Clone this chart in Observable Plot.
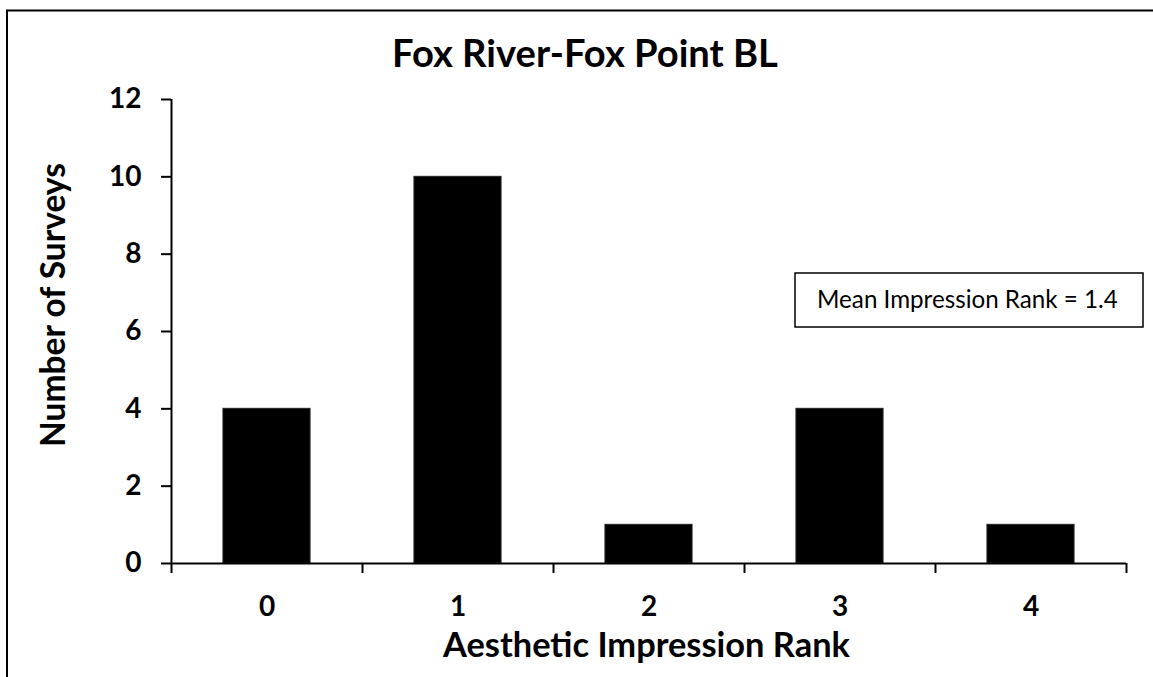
<!DOCTYPE html>
<html>
<head>
<meta charset="utf-8">
<script src="https://cdn.jsdelivr.net/npm/d3@7"></script>
<script src="https://cdn.jsdelivr.net/npm/@observablehq/plot@0.6"></script>
<style>
  html, body { margin: 0; padding: 0; background: white; }
  #chart svg { display: block; }
  #chart text { font-family: Lato, "Open Sans", sans-serif; font-weight: bold; fill: black; }
  #chart text.normal { font-weight: normal; }
</style>
</head>
<body>
<div id="chart"></div>
<script>
// ---- data ----
const ranks = [0, 1, 2, 3, 4];
const counts = [4, 10, 1, 4, 1];
const yTicks = [0, 2, 4, 6, 8, 10, 12];
const boundaryTicks = [-0.5, 0.5, 1.5, 2.5, 3.5, 4.5];
const chartTitle = "Fox River-Fox Point BL";
const xTitle = "Aesthetic Impression Rank";
const yTitle = "Number of Surveys";
const meanRank = 1.4;
const annotation = `Mean Impression Rank = ${meanRank}`;

const data = ranks.map((r, i) => ({rank: r, count: counts[i]}));
const barHalf = 0.228;

const plot = Plot.plot({
  width: 1153,
  height: 677,
  marginLeft: 171,
  marginRight: 27,
  marginTop: 99,
  marginBottom: 114,
  style: {background: "white", fontFamily: "Lato, sans-serif", overflow: "visible"},
  x: {domain: [-0.5, 4.5]},
  y: {domain: [0, 12]},
  marks: [
    Plot.rectY(data, {x1: d => d.rank - barHalf, x2: d => d.rank + barHalf, y: "count", fill: "black", stroke: "#222", strokeWidth: 1}),
    Plot.ruleY([0], {stroke: "black", strokeWidth: 2}),
    Plot.ruleX([-0.5], {stroke: "black", strokeWidth: 2}),
    Plot.axisY({ticks: yTicks, tickSize: 10, tickPadding: 20, fontSize: 28, fontWeight: "bold", strokeWidth: 2, label: null, tickFormat: d => d}),
    Plot.axisX({ticks: boundaryTicks, tickSize: 10, strokeWidth: 2, tickFormat: () => "", label: null}),
    Plot.axisX({ticks: ranks, tickSize: 0, tickPadding: 33, fontSize: 28, fontWeight: "bold", label: null, tickFormat: d => d})
  ]
});
document.getElementById("chart").appendChild(plot);

const svg = d3.select(plot);

function fit(sel, target) {
  const node = sel.node();
  const size = parseFloat(sel.attr("font-size"));
  const w = node.getComputedTextLength();
  if (w > 0) sel.attr("font-size", size * target / w);
}

// border (only left and top visible in the reference)
svg.append("path")
  .attr("d", "M7,677V10.5H1153")
  .attr("fill", "none").attr("stroke", "black").attr("stroke-width", 2);

// title
const t = svg.append("text").attr("x", 585).attr("y", 67)
  .attr("text-anchor", "middle").attr("font-size", 30).text(chartTitle);
fit(t, 386);

// x title
const xt = svg.append("text").attr("x", 646.5).attr("y", 657)
  .attr("text-anchor", "middle").attr("font-size", 30).text(xTitle);
fit(xt, 407);

// y title
const yt = svg.append("text").attr("transform", "translate(65,305) rotate(-90)")
  .attr("text-anchor", "middle").attr("font-size", 30).text(yTitle);
fit(yt, 284);

// annotation box
svg.append("rect").attr("x", 795).attr("y", 273).attr("width", 348).attr("height", 54)
  .attr("fill", "white").attr("stroke", "black").attr("stroke-width", 1.5);
const an = svg.append("text").attr("class", "normal").attr("x", 817).attr("y", 308)
  .attr("text-anchor", "start").attr("font-size", 21).text(annotation);
fit(an, 301);
</script>
</body>
</html>
